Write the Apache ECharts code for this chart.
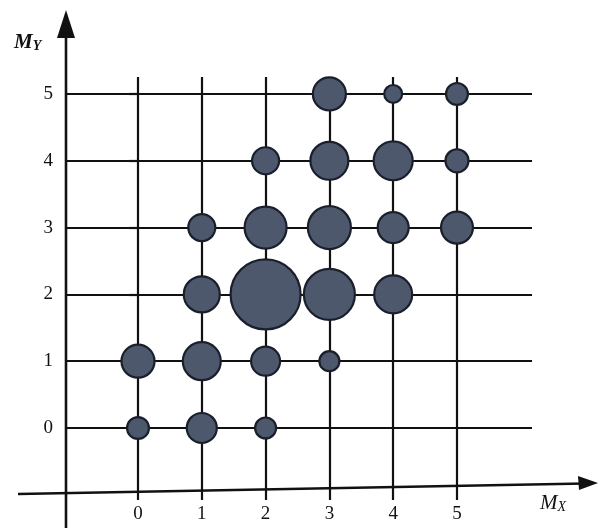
<!DOCTYPE html>
<html>
<head>
<meta charset="utf-8">
<script src="https://cdn.jsdelivr.net/npm/echarts@6/dist/echarts.min.js"></script>
<style>html,body{margin:0;padding:0;background:#fff}#c{width:598px;height:528px}</style>
</head>
<body>
<div id="c"></div>
<script>
// Tick labels
const xTicks = [0, 1, 2, 3, 4, 5];
const yTicks = [0, 1, 2, 3, 4, 5];
// Bubble positions (M_X, M_Y) and weights (area-proportional)
const mx = [0, 1, 2, 0, 1, 2, 3, 1, 2, 3, 4, 1, 2, 3, 4, 5, 2, 3, 4, 5, 3, 4, 5];
const my = [0, 0, 0, 1, 1, 1, 1, 2, 2, 2, 2, 3, 3, 3, 3, 3, 4, 4, 4, 4, 5, 5, 5];
const weight = [4.8, 9.0, 4.4, 10.9, 14.4, 8.4, 4.0, 13.0, 49.0, 26.0, 14.4, 7.3, 17.6, 18.5, 9.6, 10.2, 7.3, 14.4, 15.2, 5.3, 10.9, 3.2, 4.8];

const points = mx.map((x, i) => [x, my[i], weight[i]]);
const chart = echarts.init(document.getElementById('c'), null, {renderer: 'canvas'});
const serif = '"Liberation Serif", "DejaVu Serif", serif';
const ink = '#111111';

chart.setOption({
  backgroundColor: '#ffffff',
  animation: false,
  grid: {left: 66, right: 66, top: 77, bottom: 28, containLabel: false},
  xAxis: {
    type: 'value', min: -1.1285, max: 6.176,
    axisLine: {show: false},
    axisTick: {show: false, customValues: xTicks},
    axisLabel: {customValues: xTicks, margin: 5, color: ink, fontFamily: serif, fontSize: 19, verticalAlign: 'top'},
    splitLine: {show: true, lineStyle: {color: ink, width: 2.2}}
  },
  yAxis: {
    type: 'value', min: -1.078, max: 5.254,
    axisLine: {show: false},
    axisTick: {show: true, inside: false, length: 9, customValues: yTicks, lineStyle: {color: ink, width: 2.2}},
    axisLabel: {customValues: yTicks, margin: 13, color: ink, fontFamily: serif, fontSize: 19},
    splitLine: {show: true, lineStyle: {color: ink, width: 2.2}}
  },
  series: [{
    type: 'scatter',
    clip: false,
    data: points,
    symbolSize: v => Math.sqrt(v[2]) * 10,
    itemStyle: {color: '#4e586d', borderColor: '#1a1f2c', borderWidth: 2.2, opacity: 1}
  }],
  graphic: [
    // Y axis line with arrow
    {type: 'line', shape: {x1: 66, y1: 30, x2: 66, y2: 528}, style: {stroke: ink, lineWidth: 2.6}, z: 10},
    {type: 'polygon', shape: {points: [[66, 10], [57, 38], [75, 38]]}, style: {fill: ink}, z: 10},
    // X axis line with arrow (slightly slanted as in the original)
    {type: 'line', shape: {x1: 18, y1: 494, x2: 585, y2: 483.5}, style: {stroke: ink, lineWidth: 2.6}, z: 10},
    {type: 'polygon', shape: {points: [[598, 483], [578, 476], [579, 490]]}, style: {fill: ink}, z: 10},
    // Axis titles
    {type: 'text', left: 14, top: 32, z: 10, style: {
      text: '{m|M}{s|Y}', rich: {
        m: {fontFamily: serif, fontStyle: 'italic', fontWeight: 'bold', fontSize: 21, fill: ink},
        s: {fontFamily: serif, fontStyle: 'italic', fontWeight: 'bold', fontSize: 14, fill: ink, padding: [8, 0, 0, 0]}
      }}},
    {type: 'text', left: 540, top: 493, z: 10, style: {
      text: '{m|M}{s|X}', rich: {
        m: {fontFamily: serif, fontStyle: 'italic', fontSize: 21, fill: ink},
        s: {fontFamily: serif, fontStyle: 'italic', fontSize: 14, fill: ink, padding: [8, 0, 0, 0]}
      }}}
  ]
});
</script>
</body>
</html>
